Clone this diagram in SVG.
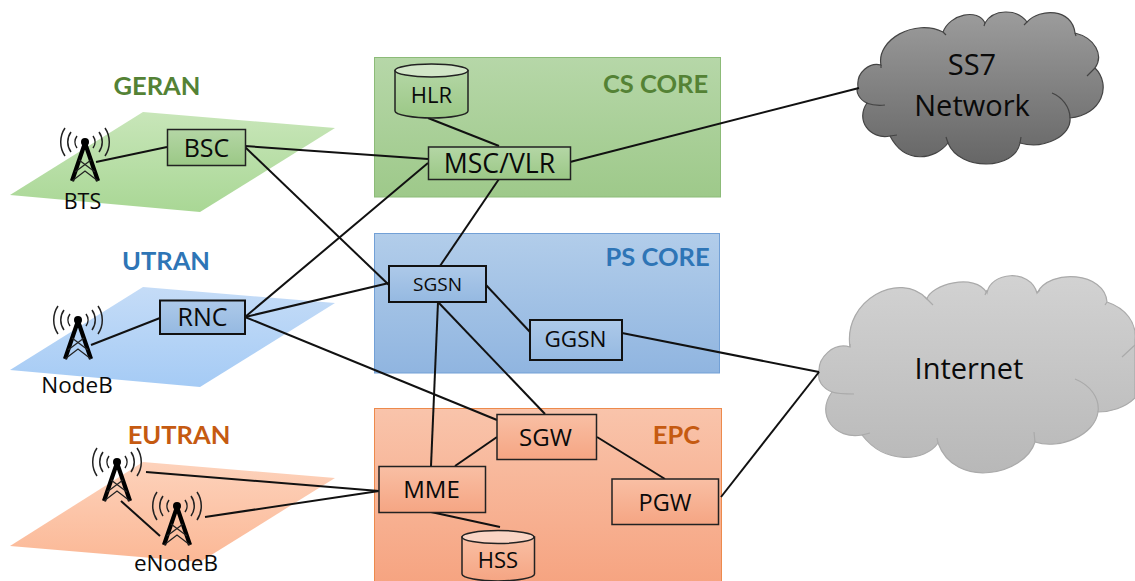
<svg xmlns="http://www.w3.org/2000/svg" width="1135" height="581" viewBox="0 0 1135 581">
<style>
text{font-family:"Open Sans","Noto Sans",sans-serif;fill:#0a0a0a;text-anchor:middle}
.t{font-family:Lato,"Liberation Sans",sans-serif;font-weight:700;font-size:25.500px}
.n{font-size:25px}
.s{font-size:22.500px}
.node{stroke:#222;stroke-width:1.5}
.gn{fill:url(#gnode)}.bn{fill:url(#bnode);stroke:#111;stroke-width:2}.on{fill:url(#onode)}
.c line{stroke:#111;stroke-width:2}
.arc{fill:none;stroke:#222;stroke-width:1.5}
</style>
<defs>
<linearGradient id="gcore" x1="0" y1="0" x2="0" y2="1"><stop offset="0" stop-color="#b6d7a8"/><stop offset="1" stop-color="#9ec98a"/></linearGradient>
<linearGradient id="bcore" x1="0" y1="0" x2="0" y2="1"><stop offset="0" stop-color="#b2cdea"/><stop offset="1" stop-color="#90b5e0"/></linearGradient>
<linearGradient id="ocore" x1="0" y1="0" x2="0" y2="1"><stop offset="0" stop-color="#f9c4ab"/><stop offset="1" stop-color="#f6a481"/></linearGradient>
<linearGradient id="gnode" x1="0" y1="0" x2="0" y2="1"><stop offset="0" stop-color="#b4d6a5"/><stop offset="1" stop-color="#9bc886"/></linearGradient>
<linearGradient id="bnode" x1="0" y1="0" x2="0" y2="1"><stop offset="0" stop-color="#adc9e9"/><stop offset="1" stop-color="#95b9e1"/></linearGradient>
<linearGradient id="onode" x1="0" y1="0" x2="0" y2="1"><stop offset="0" stop-color="#f9bfa4"/><stop offset="1" stop-color="#f5a583"/></linearGradient>
<linearGradient id="gplane" x1="0" y1="0" x2="0" y2="1"><stop offset="0" stop-color="#c8e6b9"/><stop offset="1" stop-color="#a9d795"/></linearGradient>
<linearGradient id="bplane" x1="0" y1="0" x2="0" y2="1"><stop offset="0" stop-color="#c5dcf7"/><stop offset="1" stop-color="#a5cbf5"/></linearGradient>
<linearGradient id="oplane" x1="0" y1="0" x2="0" y2="1"><stop offset="0" stop-color="#fdd2bb"/><stop offset="1" stop-color="#fbb896"/></linearGradient>
<linearGradient id="dark" x1="0" y1="0" x2="0" y2="1"><stop offset="0" stop-color="#9c9c9c"/><stop offset="1" stop-color="#666"/></linearGradient>
<linearGradient id="light" x1="0" y1="0" x2="0" y2="1"><stop offset="0" stop-color="#d2d2d2"/><stop offset="1" stop-color="#b8b8b8"/></linearGradient>
<g id="tower">
<path d="M-13,39 L0,1 L13,39" fill="none" stroke="#000" stroke-width="4.200" stroke-linejoin="round"/>
<path d="M-10,30 L6,18 M10,30 L-6,18 M-13,39 L0,29 L13,39" fill="none" stroke="#222" stroke-width="1.300"/>
<circle cx="0" cy="0" r="4" fill="#000"/>
<path class="arc" d="M-8,-6 A10,10 0 0 0 -8,6 M8,-6 A10,10 0 0 1 8,6 M-14,-10 A17,17 0 0 0 -14,10 M14,-10 A17,17 0 0 1 14,10 M-20,-14 A25,25 0 0 0 -20,14 M20,-14 A25,25 0 0 1 20,14"/>
</g>
</defs>
<rect width="1135" height="581" fill="#fff"/>
<g id="planes">
<polygon id="geran-plane" points="143,112 335,128 200,212 10,195" fill="url(#gplane)"/>
<polygon id="utran-plane" points="143,287 335,303 200,387 10,370" fill="url(#bplane)"/>
<polygon id="eutran-plane" points="143,462 335,478 200,562 10,546" fill="url(#oplane)"/>
</g>
<g id="cores">
<rect id="cs-core" x="374.500" y="57.500" width="346" height="139.500" fill="url(#gcore)" stroke="#8cbb78"/>
<rect id="ps-core" x="374.500" y="233.500" width="345" height="139.500" fill="url(#bcore)" stroke="#72a0d6"/>
<rect id="epc" x="374.500" y="408.500" width="347" height="173" fill="url(#ocore)" stroke="#ed8a4c"/>
</g>
<g id="labels">
<text class="t" x="157" y="95" style="fill:#548235">GERAN</text>
<text class="t" x="166" y="270" style="fill:#2e75b6">UTRAN</text>
<text class="t" x="179" y="444" style="fill:#c55a11">EUTRAN</text>
<text class="t" x="655.500" y="93" style="fill:#548235">CS CORE</text>
<text class="t" x="657.500" y="266" style="fill:#2e75b6">PS CORE</text>
<text class="t" x="676.500" y="444" style="fill:#c55a11">EPC</text>
</g>
<g id="ss7">
<path d="M858,87 C856,72 870,62 881,65 C876,40 915,18 943,32 C950,14 978,8 985,23 C993,9 1017,8 1027,22 C1040,8 1072,8 1075,33 C1095,38 1104,55 1095,68 C1112,85 1102,115 1070,118 C1072,135 1045,150 1020,143 C1015,170 960,172 948,143 C935,160 905,165 890,136 C870,140 855,120 867,103 C860,100 855,92 858,87 Z" fill="url(#dark)" stroke="#444" stroke-width="1.200"/>
<path d="M881,65 L881,68 M866,103 C872,105 878,106 885,105 M943,32 L946,35 M985,23 L984,26 M1027,22 L1024,25 M1075,33 L1076,36 M1095,68 L1087,76 M1052,93 C1062,97 1070,107 1070,118 M1020,143 L1021,137 M948,143 L946,137 M890,136 L897,135" fill="none" stroke="#444" stroke-width="1.200"/>
<text x="972" y="75" font-size="29">SS7</text>
<text x="972" y="116" font-size="29">Network</text>
</g>
<g id="internet">
<path d="M819,372 C818,358 833,342 850,347 C843,300 900,270 927,299 C930,285 975,272 987,293 C990,272 1030,268 1037,293 C1050,268 1105,272 1107,302 C1125,308 1137,322 1135,340 L1135,398 C1125,408 1110,412 1098,412 C1095,435 1060,450 1035,442 C1025,475 955,490 938,443 C925,462 885,465 862,435 C835,440 815,415 832,392 C822,388 817,380 819,372 Z" fill="url(#light)" stroke="#aaa" stroke-width="1.200"/>
<path d="M832,392 C838,394 846,394 854,394 M850,347 L850,344 M925,297 L933,305 M985,295 L987,290 M1037,293 L1040,290 M1107,302 L1105,305 M1075,379 C1090,385 1100,398 1098,412 M1122,357 L1135,345 M1035,442 L1034,432 M938,443 L937,438 M870,433 L862,435" fill="none" stroke="#aaa" stroke-width="1.200"/>
<text x="969" y="379" font-size="29">Internet</text>
</g>
<g id="connectors" class="c">
<line x1="96" y1="162" x2="167" y2="147"/>
<line x1="245" y1="146" x2="428" y2="159"/>
<line x1="245" y1="147" x2="389" y2="285"/>
<line x1="245" y1="317" x2="428" y2="163"/>
<line x1="245" y1="317" x2="389" y2="283"/>
<line x1="245" y1="317" x2="497" y2="420"/>
<line x1="91" y1="345" x2="160" y2="318"/>
<line x1="499" y1="179" x2="440" y2="266"/>
<line x1="428" y1="118" x2="499" y2="146"/>
<line x1="570" y1="162" x2="859" y2="88"/>
<line x1="486" y1="285" x2="530" y2="332"/>
<line x1="438" y1="302" x2="545" y2="414"/>
<line x1="438" y1="302" x2="431" y2="466"/>
<line x1="497" y1="437" x2="455" y2="466"/>
<line x1="597" y1="437" x2="665" y2="479"/>
<line x1="431" y1="512" x2="500" y2="527"/>
<line x1="721" y1="497" x2="819" y2="372"/>
<line x1="622" y1="333" x2="819" y2="372"/>
<line x1="146" y1="472" x2="379" y2="491"/>
<line x1="205" y1="517" x2="379" y2="491"/>
<line x1="121" y1="501" x2="160" y2="536"/>
</g>
<g id="BTS"><use href="#tower" x="85" y="142"/><text class="s" x="82.500" y="209" style="font-size:21.500px">BTS</text></g>
<g id="NodeB"><use href="#tower" x="78" y="320"/><text class="s" x="77" y="393">NodeB</text></g>
<g id="eNodeB1"><use href="#tower" x="117" y="462"/></g>
<g id="eNodeB2"><use href="#tower" x="177" y="506"/><text class="s" x="176" y="571">eNodeB</text></g>
<g id="BSC"><rect class="node gn" x="167.500" y="129.500" width="78" height="36"/><text class="n" x="206.500" y="157">BSC</text></g>
<g id="RNC"><rect class="node bn" x="160" y="300.500" width="85" height="33.500"/><text class="n" x="202.500" y="326">RNC</text></g>
<g id="MSCVLR"><rect class="node gn" x="428.500" y="147" width="142" height="32.500"/><text class="n" x="499.500" y="173" style="font-size:26.700px">MSC/VLR</text></g>
<g id="SGSN"><rect class="node bn" x="389" y="266" width="97" height="36"/><text class="n" x="437.500" y="291" style="font-size:19px">SGSN</text></g>
<g id="GGSN"><rect class="node bn" x="530" y="320" width="92" height="40"/><text class="n" x="575.500" y="347" style="font-size:22.500px">GGSN</text></g>
<g id="SGW"><rect class="node on" x="497" y="414.500" width="99.500" height="45"/><text class="n" x="545.500" y="446" style="font-size:24px">SGW</text></g>
<g id="MME"><rect class="node on" x="379" y="466.500" width="106.500" height="46"/><text class="n" x="431.500" y="498" style="font-size:24px">MME</text></g>
<g id="PGW"><rect class="node on" x="612" y="479" width="106.500" height="45.500"/><text class="n" x="665" y="511" style="font-size:23.500px">PGW</text></g>
<g id="HLR">
<path class="node" d="M395,70.500 V111 C395,115 414,118 432,118 C450,118 468,115 468,111 V70.500 Z" fill="url(#gnode)"/>
<ellipse class="node" cx="431.500" cy="70.500" rx="36.500" ry="6.500" fill="#d2e6c8"/>
<text class="n" x="431.500" y="103" style="font-size:22px">HLR</text>
</g>
<g id="HSS">
<path class="node" d="M462,537 V574 C462,578 480,581 498,581 C516,581 534.500,578 534.500,574 V537 Z" fill="url(#onode)"/>
<ellipse class="node" cx="498" cy="537" rx="36" ry="6.500" fill="#fad5c5"/>
<text class="n" x="498" y="568" style="font-size:22px">HSS</text>
</g>
</svg>
